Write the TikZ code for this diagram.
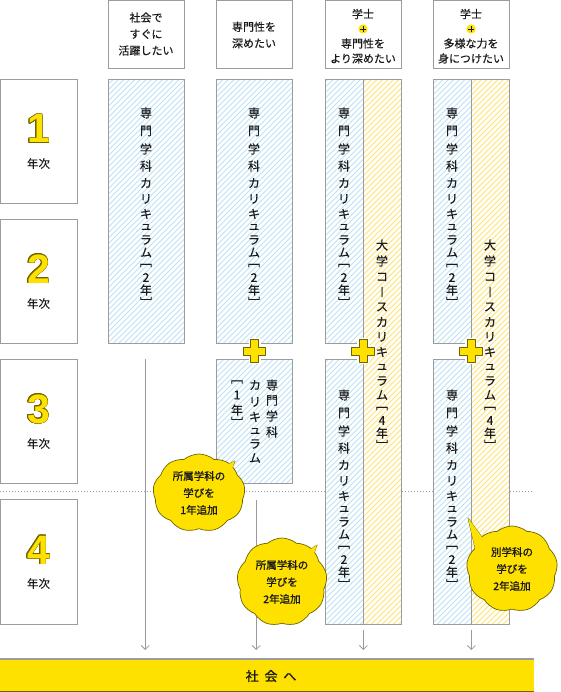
\documentclass[tikz,border=0pt]{standalone}
\usepackage{fontspec}
\setmainfont{Noto Sans CJK JP}[FakeBold=0.35]
\newfontfamily\jpb{Noto Sans CJK JP}[FakeBold=1.2]
\newfontfamily\digitf{Liberation Sans}
\usepackage{contour}
\contourlength{0.6pt}
\usetikzlibrary{shapes.symbols,arrows.meta}
\definecolor{bordergrey}{HTML}{9C9C9C}
\definecolor{hblue}{HTML}{BDE2F5}
\definecolor{hyellow}{HTML}{FFE370}
\definecolor{bigyellow}{HTML}{FFE100}
\definecolor{edge}{HTML}{6E6400}
\definecolor{arrowgrey}{HTML}{9A9A9A}
\definecolor{textdark}{HTML}{1A1A1A}
\tikzset{
  box/.style={draw=bordergrey, line width=0.8pt, fill=white, inner sep=0pt, rectangle, anchor=north west},
  barbox/.style={fill=white, inner sep=0pt, rectangle, anchor=north west},
  barline/.style={draw=bordergrey, line width=0.8pt},
  vch/.style={inner sep=0pt, text=textdark, font=\fontsize{12}{12}\selectfont},
  htxt/.style={inner sep=0pt, text=textdark, align=center, font=\fontsize{11}{16.5}\selectfont},
  htxtb/.style={inner sep=0pt, text=textdark, align=center, font=\fontsize{11}{15}\selectfont},
  yearnum/.style={inner sep=0pt, anchor=base, text=bigyellow, font=\digitf\bfseries\fontsize{41}{41}\selectfont},
  yeartxt/.style={inner sep=0pt, text=textdark, font=\fontsize{11.5}{11.5}\selectfont},
  arr/.style={draw=arrowgrey, line width=1pt, -{Straight Barb[length=4pt,width=8pt,line width=0.8pt]}},
  dotline/.style={draw=bordergrey, line width=0.8pt, dash pattern=on 1pt off 2pt},
  cloudb/.style={cloud, cloud puffs=9, cloud puff arc=80, draw=edge, line width=0.7pt, fill=bigyellow, inner sep=0pt},
  bubline/.style={draw=edge, line width=0.7pt, fill=bigyellow, line join=round},
  bubtext/.style={inner sep=0pt, text=textdark, align=center, font=\jpb\fontsize{10.5}{17}\selectfont},
  plusmark/.pic={
    \draw[white, line width=4pt, line join=round] (-4,-11.3) -- (4,-11.3) -- (4,-4) -- (11.3,-4) -- (11.3,4) -- (4,4) -- (4,11.3) -- (-4,11.3) -- (-4,4) -- (-11.3,4) -- (-11.3,-4) -- (-4,-4) -- cycle;
    \draw[draw=edge, fill=bigyellow, line width=0.7pt, line join=round] (-4,-11.3) -- (4,-11.3) -- (4,-4) -- (11.3,-4) -- (11.3,4) -- (4,4) -- (4,11.3) -- (-4,11.3) -- (-4,4) -- (-11.3,4) -- (-11.3,-4) -- (-4,-4) -- cycle;
  },
  plusdot/.pic={
    \fill[bigyellow] (0,0) circle (4.6);
    \draw[textdark, line width=0.9pt] (-2.7,0) -- (2.7,0) (0,-2.7) -- (0,2.7);
  }
}
\def\listS{専/0,門/18,学/36,科/53,カ/70,リ/86,キ/101,ュ/114,ラ/127,ム/139.5,﹇/152.5,2/164.5,年/177,﹈/189}
\def\listD{大/0,学/16,コ/32,︱/47,ス/62,カ/77,リ/92,キ/107,ュ/122,ラ/136,ム/150,﹇/163.5,4/175.5,年/188,﹈/200}
\newcommand\vcol[4]{%
  \foreach \c/\o [count=\i] in #4 {\node[vch] (#1-\i) at (#2,{#3+\o}) {\c};}%
}
\newcommand\mybubble[6]{%
  \filldraw[bubline] #5 -- cycle;
  \node[cloudb, minimum width=#3, minimum height=#4] (#1) at #2 {};
  \fill[bigyellow] #5 -- cycle;
  \node[bubtext] (#1t) at #2 {#6};
}
\newcommand\hatchlines[1]{%
  \foreach \k in {-700,-694.5,...,570} {\draw[#1, line width=0.8pt] (\k,700) -- ++(700,-700);}%
}
\begin{document}
\begin{tikzpicture}[x=1pt,y=-1pt]
\useasboundingbox (0,0) rectangle (560,692);
\fill[white] (0,0) rectangle (560,692);

% dotted divider
\coordinate (dl) at (0,491);
\coordinate (dr) at (534,491);
\draw[dotline] (dl) -- (dr);

% headers
\node[box, minimum width=76, minimum height=67.5] (h1) at (108,0.5) {};
\node[box, minimum width=76, minimum height=67.5] (h2) at (216,0.5) {};
\node[box, minimum width=76, minimum height=67.5] (h3) at (325,0.5) {};
\node[box, minimum width=76, minimum height=67.5] (h4) at (433,0.5) {};
\node[htxt] (h1t) at (146,34) {社会で\\すぐに\\活躍したい};
\node[htxt] (h2t) at (254,35) {専門性を\\深めたい};
\node[htxt] (h3a) at (363,14) {学士};
\pic at (363,29) {plusdot};
\node[htxtb] (h3t) at (363,51) {専門性を\\より深めたい};
\node[htxt] (h4a) at (471,14) {学士};
\pic at (471,29) {plusdot};
\node[htxtb] (h4t) at (471,51) {多様な力を\\身につけたい};

% year boxes
\node[box, minimum width=77, minimum height=124] (y1) at (0,79) {};
\node[box, minimum width=77, minimum height=124] (y2) at (0,219) {};
\node[box, minimum width=77, minimum height=124] (y3) at (0,359) {};
\node[box, minimum width=77, minimum height=125] (y4) at (0,499) {};
\node[yearnum] (y1n) at (38.5,143) {\contour{edge}{1}};
\node[yearnum] (y2n) at (38.5,283) {\contour{edge}{2}};
\node[yearnum] (y3n) at (38.5,423) {\contour{edge}{3}};
\node[yearnum] (y4n) at (38.5,564) {\contour{edge}{4}};
\node[yeartxt] (y1t) at (38.5,163.5) {年次};
\node[yeartxt] (y2t) at (38.5,303.5) {年次};
\node[yeartxt] (y3t) at (38.5,443.5) {年次};
\node[yeartxt] (y4t) at (38.5,583.5) {年次};

% column bars
\node[barbox, minimum width=76, minimum height=264] (c1) at (108,79) {};
\node[barbox, minimum width=76, minimum height=264] (c2a) at (216,79) {};
\node[barbox, minimum width=76, minimum height=124] (c2b) at (216,359) {};
\node[barbox, minimum width=38, minimum height=545] (c3y) at (363,79) {};
\node[barbox, minimum width=38, minimum height=264] (c3a) at (325,79) {};
\node[barbox, minimum width=38, minimum height=265] (c3b) at (325,359) {};
\node[barbox, minimum width=38, minimum height=545] (c4y) at (471,79) {};
\node[barbox, minimum width=38, minimum height=264] (c4a) at (433,79) {};
\node[barbox, minimum width=38, minimum height=265] (c4b) at (433,359) {};
\begin{scope}
  \clip (c1.north west) rectangle (c1.south east)
        (c2a.north west) rectangle (c2a.south east)
        (c2b.north west) rectangle (c2b.south east)
        (c3a.north west) rectangle (c3a.south east)
        (c3b.north west) rectangle (c3b.south east)
        (c4a.north west) rectangle (c4a.south east)
        (c4b.north west) rectangle (c4b.south east);
  \hatchlines{hblue}
\end{scope}
\begin{scope}
  \clip (c3y.north west) rectangle (c3y.south east)
        (c4y.north west) rectangle (c4y.south east);
  \hatchlines{hyellow}
\end{scope}
\foreach \n in {c1,c2a,c2b,c3y,c3a,c3b,c4y,c4a,c4b} {\draw[barline] (\n.north west) rectangle (\n.south east);}

% vertical texts
\vcol{t1}{146}{113}{\listS}
\vcol{t2}{254}{113}{\listS}
\vcol{t3}{344}{113}{\listS}
\vcol{t4}{452}{113}{\listS}
\vcol{t3y}{382}{245}{\listD}
\vcol{t4y}{490}{245}{\listD}
\vcol{t3b}{344}{395}{\listS}
\vcol{t4b}{452}{395}{\listS}
\vcol{t2r}{272}{385}{{専/0,門/15.5,学/31,科/47}}
\vcol{t2m}{255}{385}{{カ/0,リ/17,キ/32,ュ/46,ラ/59,ム/73}}
\vcol{t2l}{237}{382}{{﹇/0,1/13,年/28,﹈/40}}

% plus marks between bars
\coordinate (p2) at (254.5,351);
\coordinate (p3) at (363,351);
\coordinate (p4) at (471,351);
\pic at (p2) {plusmark};
\pic at (p3) {plusmark};
\pic at (p4) {plusmark};

% bottom bar
\node[inner sep=0pt, anchor=north west, fill=bigyellow, minimum width=534, minimum height=33] (soc) at (0,659) {};
\draw[bordergrey, line width=1.2pt] (soc.north west) -- (soc.north east);
\draw[edge, line width=1pt] ([yshift=0.5pt]soc.south west) -- ([yshift=0.5pt]soc.south east);
\node[inner sep=0pt, text=textdark, font=\jpb\fontsize{13}{13}\selectfont] (soct) at (271,676) {社\hspace{0.45em}会\hspace{0.45em}へ};

% arrows
\draw[arr, shorten >=9pt] ([xshift=-1pt,yshift=-16pt]c1.south) -- ([xshift=-1pt]c1.south |- soc.north);
\draw[arr, shorten >=9pt] ([xshift=2pt,yshift=-17pt]c2b.south) -- ([xshift=2pt]c2b.south |- soc.north);
\draw[arr, shorten >=9pt] ([yshift=-6pt]c3b.south east) -- (c3b.south east |- soc.north);
\draw[arr, shorten >=9pt] ([yshift=-6pt]c4b.south east) -- (c4b.south east |- soc.north);

% speech bubbles
\mybubble{b1}{(199,493)}{92}{78}{(216,470) -- (235,461) -- (226,483)}{所属学科の\\学びを\\1年追加}
\mybubble{b2}{(282,582)}{90}{88}{(299,557) -- (317,545) -- (309,568)}{所属学科の\\学びを\\2年追加}
\mybubble{b3}{(512,569)}{91}{86}{(484,540) -- (468,518) -- (476,552)}{別学科の\\学びを\\2年追加}
\end{tikzpicture}
\end{document}
